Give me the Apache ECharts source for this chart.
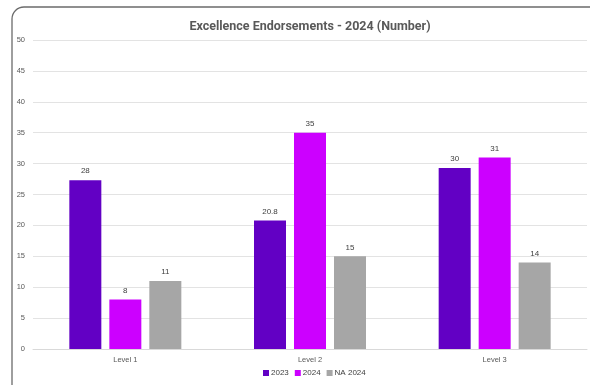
<!DOCTYPE html>
<html><head><meta charset="utf-8">
<script src="https://cdn.jsdelivr.net/npm/echarts@6/dist/echarts.min.js"></script>
<style>html,body{margin:0;padding:0;background:#fff}#c{width:590px;height:385px}</style>
</head><body><div id="c"></div>
<script>
const categories = ['Level 1', 'Level 2', 'Level 3'];
const seriesNames = ['2023', '2024', 'NA 2024'];
const values2023 = [27.3, 20.8, 29.3];
const values2024 = [8, 35, 31];
const valuesNA = [11, 15, 14];
const labels2023 = ['28', '20.8', '30'];
const labels2024 = ['8', '35', '31'];
const labelsNA = ['11', '15', '14'];
const colors = ['#6200C4', '#CC00FF', '#A6A6A6'];

const chart = echarts.init(document.getElementById('c'), null, {renderer: 'canvas'});
const font = "'Liberation Sans', Arial, sans-serif";
function mk(name, data, labels, color) {
  return {
    name: name, type: 'bar', data: data, barWidth: 32, barGap: '25%',
    itemStyle: {color: color},
    label: {show: true, position: 'top', distance: 5, color: '#404040', fontSize: 8, fontFamily: font,
      formatter: p => labels[p.dataIndex]}
  };
}
chart.setOption({
  animation: false,
  title: {text: 'Excellence Endorsements - 2024 (Number)', left: 305, top: 15, textAlign: 'center',
    textStyle: {fontSize: 12.5, fontWeight: 'bold', color: '#595959', fontFamily: 'Roboto, sans-serif'}},
  graphic: [{type: 'rect', shape: {x: 12, y: 7, width: 620, height: 420, r: [12, 0, 0, 0]},
    style: {stroke: '#6b6b6b', lineWidth: 1.3, fill: 'transparent'}, silent: true, z: -1}],
  legend: {bottom: 3, left: 258, itemWidth: 6, itemHeight: 6, itemGap: 6,
    icon: 'rect', textStyle: {fontSize: 8, color: '#404040', fontFamily: font, padding: [0, 0, 0, -3]}, data: seriesNames},
  grid: {left: 33, right: 3, top: 40, bottom: 36, containLabel: false},
  xAxis: {type: 'category', data: categories, axisTick: {show: false},
    axisLine: {lineStyle: {color: '#d9d9d9'}},
    axisLabel: {fontSize: 7.5, color: '#595959', margin: 7, fontFamily: font}},
  yAxis: {type: 'value', min: 0, max: 50, interval: 5,
    axisLine: {show: false}, axisTick: {show: false},
    splitLine: {lineStyle: {color: '#e3e3e3'}},
    axisLabel: {fontSize: 7.5, color: '#595959', margin: 8, fontFamily: font}},
  series: [mk(seriesNames[0], values2023, labels2023, colors[0]),
           mk(seriesNames[1], values2024, labels2024, colors[1]),
           mk(seriesNames[2], valuesNA, labelsNA, colors[2])]
});
</script></body></html>
